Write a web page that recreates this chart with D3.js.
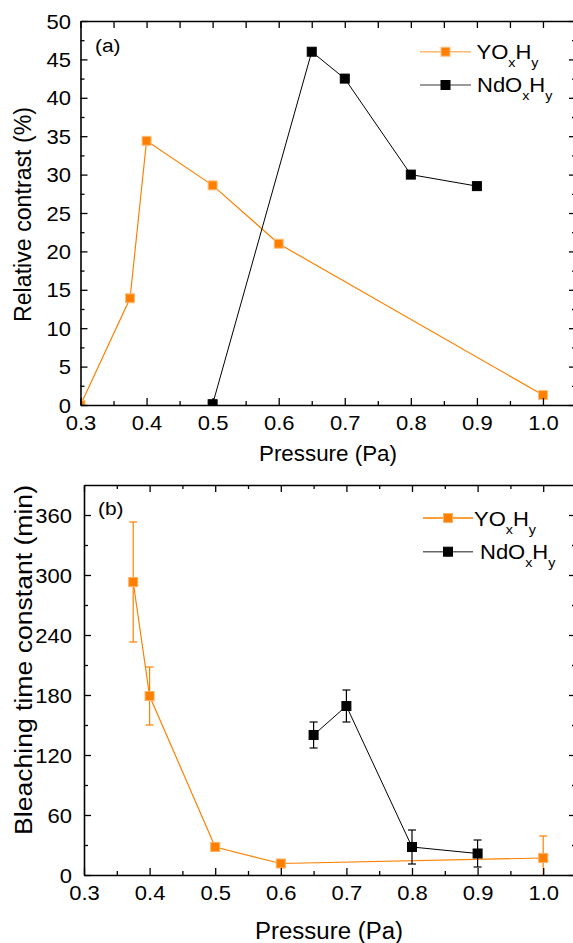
<!DOCTYPE html>
<html><head><meta charset="utf-8">
<script src="https://cdn.jsdelivr.net/npm/d3@7"></script>
<style>
body{margin:0;background:#fff}
svg{display:block}
text{font-family:"Liberation Sans",Arial,Helvetica,sans-serif;fill:#000}
</style>
</head><body>
<svg id="c" width="573" height="943"></svg>
<script>
// ---- Data ----
const seriesNames = ["YO", "NdO"];
const pressureA_Y  = [0.3, 0.375, 0.4, 0.5, 0.6, 1.0];
const contrastY    = [0, 13.9, 34.4, 28.6, 21.0, 1.3];
const pressureA_Nd = [0.5, 0.65, 0.7, 0.8, 0.9];
const contrastNd   = [0.1, 46.0, 42.5, 30.0, 28.5];

const pressureB_Y  = [0.375, 0.4, 0.5, 0.6, 1.0];
const timeY        = [293, 179, 28, 11.5, 17];
const timeYErr     = [60, 29, 0, 0, 22];
const pressureB_Nd = [0.65, 0.7, 0.8, 0.9];
const timeNd       = [140, 169, 28, 21.5];
const timeNdErr    = [13, 16, 17, 13.5];

const xMajorTicks = [0.3, 0.4, 0.5, 0.6, 0.7, 0.8, 0.9, 1.0];
const xMinorTicks = [0.35, 0.45, 0.55, 0.65, 0.75, 0.85, 0.95, 1.05];
const yTicksA = [0, 5, 10, 15, 20, 25, 30, 35, 40, 45, 50];
const yMinorA = [2.5, 7.5, 12.5, 17.5, 22.5, 27.5, 32.5, 37.5, 42.5, 47.5];
const yTicksB = [0, 60, 120, 180, 240, 300, 360];
const yMinorB = [30, 90, 150, 210, 270, 330];

const ORANGE = "#ff8000";
const svg = d3.select("#c");
const SX = 1.1; // horizontal text stretch as in the reference

function panel(o) {
  const x = d3.scaleLinear().domain([0.3, 1.05]).range([o.left, o.right]);
  const y = d3.scaleLinear().domain(o.yDomain).range([o.bottom, o.top]);
  const g = svg.append("g");
  const cid = "clip" + o.id;
  g.append("clipPath").attr("id", cid).append("rect")
    .attr("x", o.left).attr("y", o.top).attr("width", o.right - o.left).attr("height", o.bottom - o.top);
  const pg = g.append("g").attr("clip-path", `url(#${cid})`);

  const line = d3.line().x(d => x(d[0])).y(d => y(d[1]));
  o.series.forEach(s => {
    const pts = s.xs.map((v, i) => [v, s.ys[i], s.err ? s.err[i] : 0]);
    pg.append("path").datum(pts).attr("d", line)
      .attr("fill", "none").attr("stroke", s.color).attr("stroke-width", s.lw);
    if (s.err) {
      pts.filter(p => p[2] > 0).forEach(p => {
        const cx = x(p[0]), y1 = y(p[1] + p[2]), y0 = y(Math.max(p[1] - p[2], -20));
        pg.append("line").attr("x1", cx).attr("x2", cx).attr("y1", y1).attr("y2", y0)
          .attr("stroke", s.color).attr("stroke-width", 1.2);
        [p[1] + p[2], p[1] - p[2]].forEach(v => {
          pg.append("line").attr("x1", cx - 4).attr("x2", cx + 4).attr("y1", y(v)).attr("y2", y(v))
            .attr("stroke", s.color).attr("stroke-width", 1.2);
        });
      });
    }
    pg.selectAll(null).data(pts).enter().append("rect")
      .attr("x", d => x(d[0]) - 4.5).attr("y", d => y(d[1]) - 4.5)
      .attr("width", 9).attr("height", 9)
      .attr("fill", s.color).attr("stroke", s.mstroke).attr("stroke-width", 1);
  });

  // axes
  const styleAxis = sel => {
    sel.selectAll(".domain").attr("stroke", "#000").attr("stroke-width", 1.6);
    sel.selectAll(".tick line").attr("stroke", "#000").attr("stroke-width", 1.3);
  };
  const fmtX = d3.format(".1f");
  // bottom
  const axB = g.append("g").attr("transform", `translate(0,${o.bottom})`)
    .call(d3.axisBottom(x).tickValues(xMajorTicks).tickFormat(fmtX).tickSizeInner(-7).tickSizeOuter(0).tickPadding(11));
  axB.selectAll("text").attr("font-size", 20).attr("transform", `scale(${SX},1)`).attr("dy", "0.71em");
  styleAxis(axB);
  const axBm = g.append("g").attr("transform", `translate(0,${o.bottom})`)
    .call(d3.axisBottom(x).tickValues(xMinorTicks).tickFormat("").tickSizeInner(-4).tickSizeOuter(0));
  styleAxis(axBm); axBm.select(".domain").remove();
  // top
  const axT = g.append("g").attr("transform", `translate(0,${o.top})`)
    .call(d3.axisTop(x).tickValues(xMajorTicks).tickFormat("").tickSizeInner(-7).tickSizeOuter(0));
  styleAxis(axT);
  const axTm = g.append("g").attr("transform", `translate(0,${o.top})`)
    .call(d3.axisTop(x).tickValues(xMinorTicks).tickFormat("").tickSizeInner(o.topMinor).tickSizeOuter(0));
  styleAxis(axTm); axTm.select(".domain").remove();
  // left
  const axL = g.append("g").attr("transform", `translate(${o.left},0)`)
    .call(d3.axisLeft(y).tickValues(o.yTicks).tickSizeInner(-7).tickSizeOuter(0).tickPadding(o.ypad));
  axL.selectAll("text").attr("font-size", 20).attr("transform", `scale(${SX},1)`).attr("dy", "0.35em");
  styleAxis(axL);
  const axLm = g.append("g").attr("transform", `translate(${o.left},0)`)
    .call(d3.axisLeft(y).tickValues(o.yMinor).tickFormat("").tickSizeInner(-4).tickSizeOuter(0));
  styleAxis(axLm); axLm.select(".domain").remove();
  // right
  const axR = g.append("g").attr("transform", `translate(${o.right},0)`)
    .call(d3.axisRight(y).tickValues(o.yTicks).tickFormat("").tickSizeInner(-7).tickSizeOuter(0));
  styleAxis(axR);
  const axRm = g.append("g").attr("transform", `translate(${o.right},0)`)
    .call(d3.axisRight(y).tickValues(o.yMinor).tickFormat("").tickSizeInner(-4).tickSizeOuter(0));
  styleAxis(axRm); axRm.select(".domain").remove();

  // titles
  g.append("text").attr("x", o.xtitle[0]).attr("y", o.xtitle[1]).attr("font-size", o.xtitle[2])
    .attr("textLength", o.xtitle[3]).attr("lengthAdjust", "spacingAndGlyphs")
    .text("Pressure (Pa)");
  g.append("text").attr("transform", `translate(${o.ytitle[0]},${o.ytitle[1]}) rotate(-90)`)
    .attr("text-anchor", "middle").attr("font-size", o.ytitle[2])
    .attr("textLength", o.ytitle[3]).attr("lengthAdjust", "spacingAndGlyphs")
    .text(o.ytext);
  g.append("text").attr("transform", `translate(${o.tag[0]},${o.tag[1]}) scale(${SX},1)`)
    .attr("font-size", 19).text(o.tagText);

  // legend
  o.legend.forEach((L, i) => {
    const s = o.series[i];
    g.append("line").attr("x1", L.x1).attr("x2", L.x2).attr("y1", L.y).attr("y2", L.y)
      .attr("stroke", L.lc).attr("stroke-width", 1.6);
    g.append("rect").attr("x", (L.x1 + L.x2) / 2 - 4.5).attr("y", L.y - 4.5).attr("width", 9).attr("height", 9)
      .attr("fill", s.color).attr("stroke", s.mstroke).attr("stroke-width", 1);
    const t = g.append("text").attr("transform", `translate(${L.tx},${L.ty}) scale(${SX},1)`).attr("font-size", 20);
    t.append("tspan").text(seriesNames[i]);
    t.append("tspan").attr("font-size", 13).attr("dy", 8).text("x");
    t.append("tspan").attr("dy", -8).text("H");
    t.append("tspan").attr("font-size", 13).attr("dy", 8).text("y");
  });
}

panel({
  id: "a", left: 80.5, right: 576, top: 21, bottom: 405, yDomain: [0, 50],
  yTicks: yTicksA, yMinor: yMinorA, ypad: 8.6, topMinor: -7,
  xtitle: [259, 461, 22, 138], ytitle: [31, 214.5, 23, 215], ytext: "Relative contrast (%)",
  tag: [95, 52], tagText: "(a)",
  series: [
    { xs: pressureA_Y, ys: contrastY, color: ORANGE, mstroke: "#ffc080", lw: 1.2 },
    { xs: pressureA_Nd, ys: contrastNd, color: "#000", mstroke: "#000", lw: 1 }
  ],
  legend: [
    { x1: 420, x2: 471, y: 51.7, lc: "#ffb870", tx: 476.5, ty: 58.5 },
    { x1: 420, x2: 471, y: 85, lc: "#7a7a7a", tx: 477, ty: 92 }
  ]
});

panel({
  id: "b", left: 84, right: 576, top: 485, bottom: 875, yDomain: [0, 390],
  yTicks: yTicksB, yMinor: yMinorB, ypad: 10.9, topMinor: -4,
  xtitle: [255, 939, 23, 148], ytitle: [32, 660, 23, 350], ytext: "Bleaching time constant (min)",
  tag: [98, 515], tagText: "(b)",
  series: [
    { xs: pressureB_Y, ys: timeY, err: timeYErr, color: ORANGE, mstroke: "#ffb060", lw: 1.2 },
    { xs: pressureB_Nd, ys: timeNd, err: timeNdErr, color: "#000", mstroke: "#000", lw: 1 }
  ],
  legend: [
    { x1: 423, x2: 473, y: 518, lc: ORANGE, tx: 474, ty: 525.5 },
    { x1: 423, x2: 473, y: 551.7, lc: "#666", tx: 480, ty: 559 }
  ]
});
</script>
</body></html>
